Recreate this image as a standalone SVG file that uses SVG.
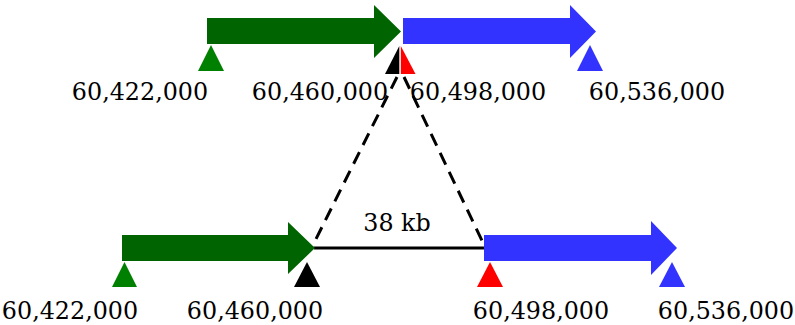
<svg xmlns="http://www.w3.org/2000/svg" width="795" height="325" viewBox="0 0 795 325">
<style>
text{font-family:"DejaVu Serif",serif;font-size:23.8px;fill:#000;text-anchor:middle}
.g{fill:#006400}.b{fill:#3333ff}.tg{fill:#008000}.tb{fill:#3333ff}.tr{fill:#ff0000}.tk{fill:#000}
.d{stroke:#000;stroke-width:3;stroke-dasharray:13 8;fill:none}
</style>
<rect width="795" height="325" fill="#fff"/>
<g id="connectors">
<line class="d" x1="397" y1="77" x2="312" y2="247"/>
<line class="d" x1="404" y1="77" x2="485" y2="247"/>
<line x1="314" y1="248" x2="485" y2="248" stroke="#000" stroke-width="3"/>
<text x="397" y="231">38 kb</text>
</g>
<g id="top-green">
<polygon class="g" points="207,18 374,18 374,5 401,31.5 374,58 374,44 207,44"/>
<polygon class="tg" points="211,45 224,71 198,71"/>
<text x="140" y="100">60,422,000</text>
</g>
<g id="top-blue">
<polygon class="b" points="403,18 570,18 570,5 596,31.5 570,58 570,44 403,44"/>
<polygon class="tb" points="590,45 603,71 577,71"/>
<text x="657" y="100">60,536,000</text>
</g>
<g id="top-junction">
<polygon class="tk" points="399.3,46 399.3,74 385,74"/>
<polygon class="tr" points="400.8,46 415.5,74 400.8,74"/>
<text x="320" y="100">60,460,000</text>
<text x="478" y="100">60,498,000</text>
</g>
<g id="bottom-green">
<polygon class="g" points="122,235 288,235 288,222 315,248 288,274 288,261 122,261"/>
<polygon class="tg" points="124.5,262 137,287 112,287"/>
<polygon class="tk" points="307,262 320,287 294,287"/>
<text x="70" y="319">60,422,000</text>
<text x="255" y="319">60,460,000</text>
</g>
<g id="bottom-blue">
<polygon class="b" points="484,235 651,235 651,221 677,248 651,275 651,261 484,261"/>
<polygon class="tr" points="490,262 503,287 477,287"/>
<polygon class="tb" points="672,262 685,287 659,287"/>
<text x="541" y="319">60,498,000</text>
<text x="726" y="319">60,536,000</text>
</g>
</svg>
